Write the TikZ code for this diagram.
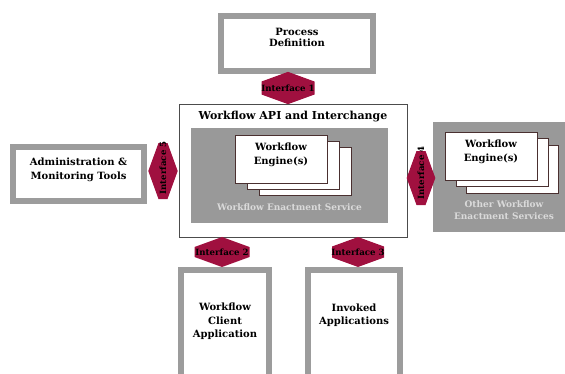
\documentclass[tikz,border=0pt]{standalone}
\usepackage{fontspec}
\setmainfont{DejaVu Serif}
\usetikzlibrary{positioning,shapes.symbols}

\definecolor{framegray}{HTML}{9C9C9C}
\definecolor{servicegray}{HTML}{999999}
\definecolor{ifred}{HTML}{A0103F}
\definecolor{softtext}{HTML}{DADADA}
\definecolor{engineline}{HTML}{4A3030}

\begin{document}
\begin{tikzpicture}[x=1pt, y=-1pt,
    framebox/.style={draw=framegray, line width=6pt, fill=white, inner sep=0pt},
    boxtext/.style={align=center, font=\fontsize{10}{13.5}\selectfont\bfseries, inner sep=0pt},
    enginebox/.style={draw=engineline, line width=0.8pt, fill=white, inner sep=0pt,
        minimum width=92pt, minimum height=48pt},
    servicebox/.style={fill=servicegray, inner sep=0pt},
    softlabel/.style={align=center, text=softtext, inner sep=0pt,
        font=\fontsize{9}{12}\selectfont\bfseries},
    ifhex/.style={signal, signal to=north and south, signal pointer angle=140,
        fill=ifred, inner sep=0pt},
    iflabel/.style={font=\fontsize{8.6}{9}\selectfont\bfseries, inner sep=0pt}
    ]
    \useasboundingbox (0,0) rectangle (565,373);

    % outer boxes
    \node[framebox, minimum width=152pt, minimum height=55pt,
        label={[boxtext, font=\fontsize{10}{11.5}\selectfont\bfseries, yshift=6pt]center:Process\\Definition}]
        (procdef) at (297,43.5) {};
    \node[framebox, minimum width=131pt, minimum height=54pt,
        label={[boxtext, yshift=4pt]center:Administration \&\\Monitoring Tools}]
        (admin) at (78.5,174) {};
    \node[framebox, minimum width=88pt, minimum height=120pt,
        label={[boxtext, yshift=8.5pt]center:Workflow\\Client\\Application}]
        (client) at (225,330) {};
    \node[framebox, minimum width=92pt, minimum height=120pt,
        label={[boxtext, yshift=15pt]center:Invoked\\Applications}]
        (invoked) at (354,330) {};

    % workflow API box
    \node[draw=black!70, line width=1pt, fill=white, minimum width=228pt, minimum height=133pt,
        label={[boxtext, font=\fontsize{11}{13}\selectfont\bfseries, anchor=north, yshift=-7pt]north:Workflow API and Interchange}]
        (api) at (293,170.5) {};
    \node[servicebox, minimum width=197pt, minimum height=95pt,
        label={[softlabel, anchor=base, yshift=13pt]south:Workflow Enactment Service}]
        (service) at (289.5,175.5) {};
    \node[enginebox] (eng3) at (305,171) {};
    \node[enginebox] (eng2) at (293,165) {};
    \node[enginebox, label={[boxtext, yshift=4pt]center:Workflow\\Engine(s)}] (eng1) at (281,159) {};

    % other enactment services
    \node[servicebox, minimum width=142pt, minimum height=110pt,
        label={[softlabel, anchor=south, yshift=12pt]south:Other Workflow\\Enactment Services}]
        (other) at (504,177) {};
    \node[enginebox] (oeng3) at (512.5,169.5) {};
    \node[enginebox] (oeng2) at (502,162.5) {};
    \node[enginebox, label={[boxtext, yshift=4pt]center:Workflow\\Engine(s)}] (oeng1) at (491,156) {};

    % interfaces
    \node[ifhex, minimum width=53pt, minimum height=13pt] (if1) at (288,88) {};
    \node[iflabel] (if1text) at (if1) {Interface 1};
    \node[ifhex, minimum width=55pt, minimum height=10pt] (if2) at (222,252) {};
    \node[iflabel] (if2text) at (if2) {Interface 2};
    \node[ifhex, minimum width=52pt, minimum height=11pt] (if3) at (358,252) {};
    \node[iflabel] (if3text) at (if3) {Interface 3};
    \node[ifhex, rotate=90, minimum width=56pt, minimum height=9pt] (if5) at (163,171) {};
    \node[iflabel, rotate=90] (if5text) at (163,168) {Interface 5};
    \node[ifhex, rotate=90, minimum width=54pt, minimum height=9pt] (if4) at (421,178) {};
    \node[iflabel, rotate=90] (if4text) at (421,173) {Interface 4};
\end{tikzpicture}
\end{document}
